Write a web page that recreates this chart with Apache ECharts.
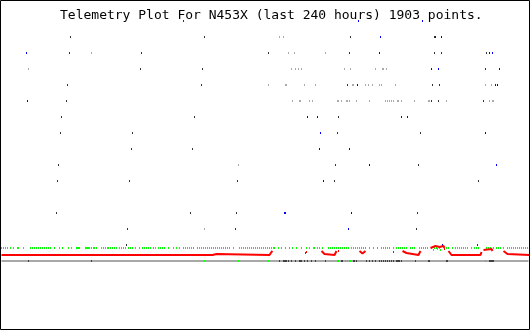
<!DOCTYPE html>
<html>
<head>
<meta charset="utf-8">
<script src="https://cdn.jsdelivr.net/npm/echarts@6/dist/echarts.min.js"></script>
<style>
html,body{margin:0;padding:0;background:#fff;}
#chart{width:530px;height:330px;}
</style>
</head>
<body>
<div id="chart"></div>
<script>
// x: time slot across the 240 hour window (0..529), y: telemetry channel row (0 = top)
const titleText = 'Telemetry Plot For N453X (last 240 hours) 1903 points.';

// scattered event rows: [slot, row]
const darkEvents = [[183,0],[70,1],[204,1],[350,1],[434,1],
  [69,2],[141,2],[268,2],[349,2],[434,2],[441,2],[486,2],
  [140,3],[202,3],[485,3],
  [67,4],[201,4],[347,4],[432,4],[439,4],
  [66,5],[431,5],[438,5],[483,5],
  [61,6],[194,6],[338,6],
  [60,7],[132,7],[337,7],[420,7],
  [131,8],[192,8],
  [58,9],[335,9],[418,9],
  [57,10],[129,10],[237,10],[334,10],[478,10],
  [56,12],[190,12],[236,12],[417,12],
  [127,13],[235,13],[416,13],
  [126,14],[477,14]];
const lightEvents = [[279,1],[283,1],
  [91,2],[288,2],[294,2],[325,2],
  [28,3],[291,3],[295,3],[298,3],[301,3],[344,3],[350,3],[375,3],[382,3],[383,3],[386,3],
  [268,4],[285,4],[286,4],[304,4],[315,4],[352,4],[353,4],[365,4],[368,4],[372,4],[379,4],[381,4],[395,4],[485,4],[491,4],
  [292,5],[299,5],[300,5],[309,5],[312,5],[337,5],[338,5],[341,5],[346,5],[347,5],[349,5],[356,5],[369,5],[385,5],[387,5],[389,5],[391,5],[393,5],[397,5],[398,5],[401,5],[414,5],[428,5],[429,5],[446,5],[489,5],[492,5],[493,5],
  [238,9],[204,13]];
const blueEvents = [[358,0],[422,0],[380,1],[435,1],[441,1],
  [26,2],[379,2],[489,2],[492,2],
  [431,3],[438,3],[499,3],
  [357,4],[495,4],[497,4],
  [27,5],
  [307,6],[317,6],[401,6],[407,6],
  [320,7],[485,7],
  [319,8],[349,8],
  [369,9],[496,9],
  [323,10],
  [284,12],[285,12],[351,12],
  [348,13],[442,14]];

// green status channel
const greenLevel = 14.1875;
const greenSlots = [1,3,5,7,10,13,17,18,23,30,32,34,36,38,40,42,44,46,48,50,54,59,62,68,71,76,77,78,79,85,86,87,88,89,91,93,94,96,101,103,105,107,108,110,112,114,116,119,121,123,125,128,130,132,135,139,142,144,146,148,150,153,155,158,160,162,164,168,173,176,
  179,183,185,187,189,191,193,197,199,201,203,205,207,209,211,213,215,217,219,221,223,225,227,229,233,239,241,243,245,247,249,251,253,255,257,259,261,263,265,267,269,271,273,274,278,281,285,289,292,296,301,306,309,313,314,317,319,322,328,330,332,334,336,338,340,342,344,346,348,
  351,353,355,357,359,361,363,365,369,373,377,381,383,385,387,389,393,396,398,400,402,404,406,410,412,414,419,421,423,425,427,431,434,436,439,
  446,448,452,455,457,459,461,463,465,467,471,474,476,478,486,488,490,493,496,498,500,503,507,509,511,513,515,517,519,521,523,525,527];
const greenHigh = [[433,14.3125],[437,14.25],[440,14.3125]];

// red channel segments: [slot, level]
const redSegments = [
  [[1,14.625],[212,14.625],[213,14.5625],[216,14.5625],[217,14.625],[269,14.625],[271,14.4375],[272,14.375]],
  [[321,14.375],[322,14.4375],[323,14.5],[324,14.5625],[325,14.625],[334,14.625],[335,14.5],[336,14.375]],
  [[359,14.375],[361,14.5],[362,14.53],[363,14.5],[365,14.375]],
  [[402,14.375],[404,14.4375],[406,14.5],[407,14.625],[418,14.625],[419,14.5],[420,14.375]],
  [[430,14.1875],[432,14.0625],[435,14.0625],[437,14.125],[439,14.125],[441,14.0625],[443,14.0625],[444,14.1875]],
  [[448,14.375],[450,14.5],[451,14.625],[480,14.625],[481,14.4375]],
  [[483,14.3125],[484,14.25],[491,14.25],[492,14.375]],
  [[503,14.375],[505,14.4375],[507,14.5625],[508,14.625],[529,14.625]]
];
const redDots = [[305,14.5],[306,14.4375],[338,14.375],[393,14.4375],[444,14.25]];

// gray link channel
const grayLevel = 15;
const grayRange = [1,528];
const grayDarkSlots = [28,91,279,283,284,285,286,288,291,295,299,300,301,304,307,311,315,325,341,342,345,353,354,356,366,369,372,375,379,381,383,385,387,389,391,393,396,397,398,399,401,415,428,429,446,447,489,490,491,492,493];
const grayGreenSlots = [204,238,268,337,338,345,347,349,350,485];

const chart = echarts.init(document.getElementById('chart'), null, {renderer:'canvas'});
const pt = (color, data, size) => ({
  type:'scatter', data, symbol:'rect', symbolSize: size || [1,2],
  itemStyle:{color, opacity:1}, silent:true, animation:false
});
const series = [];
series.push({type:'line', data:[[grayRange[0],grayLevel],[grayRange[1],grayLevel]], symbol:'none',
  lineStyle:{color:'#a8a8a8', width:2}, silent:true, animation:false, z:1});
series.push(pt('#404040', grayDarkSlots.map(s=>[s,grayLevel])));
series.push(pt('#00ff00', grayGreenSlots.map(s=>[s,grayLevel])));
series.push(pt('#00ff00', greenSlots.map(s=>[s,greenLevel])));
series.push(pt('#00ff00', greenHigh));
redSegments.forEach(seg => series.push({type:'line', data:seg, symbol:'none',
  lineStyle:{color:'#ff0000', width:2}, silent:true, animation:false, z:3}));
series.push(Object.assign(pt('#ff0000', redDots), {z:3}));
series.push(pt('#aaaaaa', lightEvents));
series.push(pt('#333333', darkEvents));
series.push(pt('#0000ff', blueEvents));

chart.setOption({
  animation:false,
  backgroundColor:'#ffffff',
  title:{text:titleText, left:55, top:4,
    textStyle:{fontFamily:'DejaVu Sans Mono', fontSize:13, fontWeight:'normal', color:'#000'}},
  grid:{left:0, top:21, width:530, height:304},
  xAxis:{type:'value', min:-0.5, max:529.5, show:false},
  yAxis:{type:'value', min:0, max:19, inverse:true, show:false},
  series,
  graphic:[{type:'rect', shape:{x:0.5,y:0.5,width:529,height:329},
    style:{fill:null, stroke:'#000', lineWidth:1}, z:100, silent:true}]
});
</script>
</body>
</html>
